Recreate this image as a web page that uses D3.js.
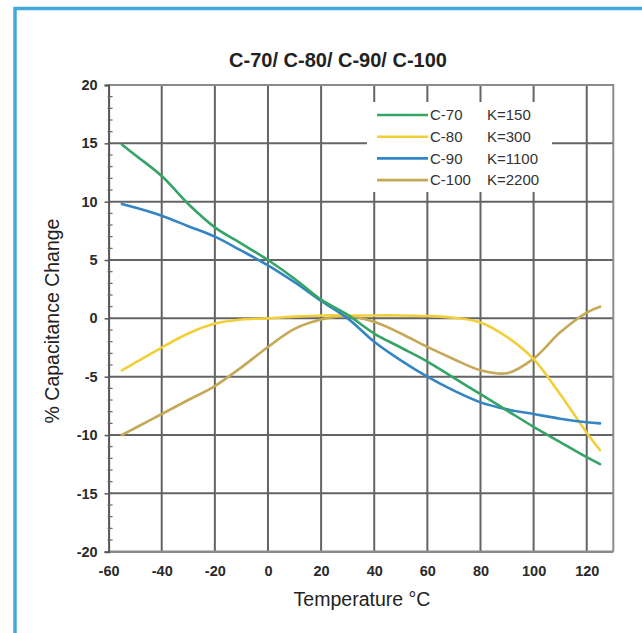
<!DOCTYPE html>
<html><head><meta charset="utf-8">
<script src="https://cdn.jsdelivr.net/npm/d3@7"></script>
<style>body{margin:0;background:#fff} svg{display:block}</style>
</head><body><svg id="c" width="642" height="633"></svg>
<script>
const temps = [-55,-50,-40,-30,-20,-10,0,10,20,30,40,50,60,70,80,90,100,110,120,125];
const c70  = [14.9,14.0,12.2,9.8,7.8,6.4,5.0,3.4,1.6,0.3,-1.3,-2.5,-3.7,-5.1,-6.5,-7.9,-9.3,-10.6,-11.9,-12.5];
const c80  = [-4.45,-3.8,-2.5,-1.3,-0.45,-0.1,0.0,0.15,0.25,0.25,0.25,0.25,0.2,0.05,-0.35,-1.6,-3.5,-6.5,-9.8,-11.3];
const c90  = [9.8,9.5,8.8,7.9,7.0,5.8,4.55,3.1,1.5,0.0,-2.0,-3.6,-5.0,-6.2,-7.2,-7.8,-8.2,-8.6,-8.9,-9.0];
const c100 = [-10.0,-9.4,-8.2,-7.0,-5.8,-4.2,-2.45,-0.9,-0.1,0.2,-0.3,-1.3,-2.45,-3.5,-4.45,-4.7,-3.45,-1.2,0.5,1.0];
const seriesNames  = ["C-70","C-80","C-90","C-100"];
const kLabels      = ["K=150","K=300","K=1100","K=2200"];
const seriesColors = ["#35a465","#f2cf38","#3485c6","#c6a957"];
const xTicks = [-60,-40,-20,0,20,40,60,80,100,120];
const yTicks = [-20,-15,-10,-5,0,5,10,15,20];
const title = "C-70/ C-80/ C-90/ C-100";
const xTitle = "Temperature °C";
const yTitle = "% Capacitance Change";

const svg = d3.select("#c");
const FONT = "'Liberation Sans', Arial, Helvetica, sans-serif";
const L = 108.6, R = 613.3, T = 85, B = 551.7;
const x = d3.scaleLinear().domain([-60,130]).range([L,R]);
const y = d3.scaleLinear().domain([-20,20]).range([B,T]);

// blue frame
svg.append("path").attr("d", `M15,633 V8.5 H642`).attr("fill","none")
  .attr("stroke","#42a7dd").attr("stroke-width",3.5);

// grid
const g = svg.append("g");
g.selectAll("line.v").data(xTicks.filter(d=>d>-60)).join("line")
  .attr("x1",d=>x(d)).attr("x2",d=>x(d)).attr("y1",T).attr("y2",B)
  .attr("stroke","#646464").attr("stroke-width",2);
g.selectAll("line.h").data(yTicks.filter(d=>d>-20 && d<20)).join("line")
  .attr("y1",d=>y(d)).attr("y2",d=>y(d)).attr("x1",L).attr("x2",R)
  .attr("stroke","#646464").attr("stroke-width",2);
// plot border top/right
svg.append("path").attr("d",`M${L},${T} H${R} V${B}`).attr("fill","none")
  .attr("stroke","#8c8c8c").attr("stroke-width",2);
// bottom axis line
svg.append("line").attr("x1",L).attr("x2",R).attr("y1",B).attr("y2",B)
  .attr("stroke","#8a8a8a").attr("stroke-width",2.5);

// legend background
svg.append("rect").attr("x",367).attr("y",102).attr("width",185).attr("height",90).attr("fill","#fff");

const fmt = d => String(d);
// y axis with major ticks
const yAxis = svg.append("g").attr("transform",`translate(${L},0)`)
  .call(d3.axisLeft(y).tickValues(yTicks).tickSize(4).tickPadding(7).tickFormat(fmt));
yAxis.select(".domain").attr("stroke","#555").attr("stroke-width",2);
yAxis.selectAll(".tick line").attr("stroke","#555").attr("stroke-width",1.5);
yAxis.selectAll(".tick text").attr("font-family",FONT).attr("font-size",14.5)
  .attr("font-weight","bold").attr("fill","#2a2a2a");
// minor ticks
const minor = d3.range(-20,21,1).filter(d=>d%5!==0);
svg.append("g").selectAll("line").data(minor).join("line")
  .attr("x1",L-1).attr("x2",L+4).attr("y1",d=>y(d)).attr("y2",d=>y(d))
  .attr("stroke","#666").attr("stroke-width",1.2);

// x axis labels
const xAxis = svg.append("g").attr("transform",`translate(0,${B})`)
  .call(d3.axisBottom(x).tickValues(xTicks).tickSize(0).tickPadding(14).tickFormat(fmt));
xAxis.select(".domain").remove();
xAxis.selectAll(".tick text").attr("font-family",FONT).attr("font-size",14.5)
  .attr("font-weight","bold").attr("fill","#2a2a2a");

// lines
const allSeries = [c70,c80,c90,c100];
const line = d3.line().x((d,i)=>x(temps[i])).y(d=>y(d)).curve(d3.curveCatmullRom.alpha(0.5));
const drawOrder = [3,1,2,0];
svg.append("g").selectAll("path").data(drawOrder).join("path")
  .attr("d",i=>line(allSeries[i])).attr("fill","none")
  .attr("stroke",i=>seriesColors[i]).attr("stroke-width",2.6)
  .attr("stroke-linejoin","round").attr("stroke-linecap","round");

// legend
const lg = svg.append("g");
seriesNames.forEach((n,i)=>{
  const cy = 115 + i*21.7;
  lg.append("line").attr("x1",377).attr("x2",428).attr("y1",cy).attr("y2",cy)
    .attr("stroke",seriesColors[i]).attr("stroke-width",2.6);
  lg.append("text").attr("x",430).attr("y",cy+5.3).text(n)
    .attr("font-family",FONT).attr("font-size",15).attr("fill","#333");
  lg.append("text").attr("x",487).attr("y",cy+5.3).text(kLabels[i])
    .attr("font-family",FONT).attr("font-size",15).attr("fill","#333");
});

// titles
svg.append("text").attr("x",338).attr("y",67).attr("text-anchor","middle")
  .attr("font-family",FONT).attr("font-weight","bold").attr("font-size",20).attr("fill","#222").text(title);
svg.append("text").attr("x",362).attr("y",606).attr("text-anchor","middle")
  .attr("font-family",FONT).attr("font-size",19.5).attr("fill","#222").text(xTitle);
svg.append("text").attr("transform",`translate(59,321) rotate(-90)`).attr("text-anchor","middle")
  .attr("font-family",FONT).attr("font-size",19.5).attr("fill","#222").text(yTitle);
</script></body></html>
